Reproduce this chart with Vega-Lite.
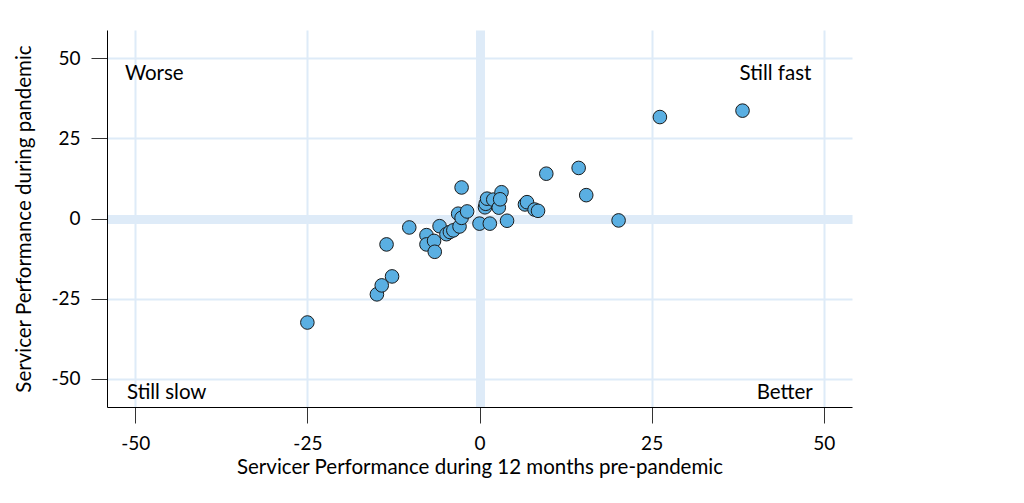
{
  "$schema": "https://vega.github.io/schema/vega-lite/v6.json",
  "autosize": {"type": "none"},
  "padding": {"left": 107, "top": 30, "right": 172, "bottom": 96},
  "width": 745,
  "height": 377,
  "background": "white",
  "config": {
    "view": {"stroke": null},
    "font": "Lato",
    "axis": {
      "labelFont": "Lato",
      "titleFont": "Lato",
      "labelFontSize": 19,
      "titleFontSize": 20.5,
      "titleFontWeight": "normal",
      "labelColor": "#000000",
      "titleColor": "#000000",
      "domainColor": "#000000",
      "domainWidth": 1,
      "tickColor": "#333333",
      "tickSize": 16,
      "gridColor": "#deebf8",
      "gridOpacity": 1,
      "labelExpr": "datum.value < 0 ? '-' + abs(datum.value) : '' + datum.value"
    }
  },
  "datasets": {
    "points": [
      {"pre": -25.0, "during": -32.5},
      {"pre": -14.9, "during": -23.7},
      {"pre": -14.2, "during": -20.9},
      {"pre": -12.7, "during": -18.1},
      {"pre": -13.5, "during": -8.1},
      {"pre": -10.2, "during": -2.8},
      {"pre": -2.6, "during": 9.7},
      {"pre": -7.7, "during": -5.2},
      {"pre": -7.7, "during": -8.1},
      {"pre": -6.6, "during": -7.0},
      {"pre": -6.5, "during": -10.4},
      {"pre": -5.8, "during": -2.4},
      {"pre": -4.8, "during": -4.9},
      {"pre": -4.3, "during": -4.2},
      {"pre": -3.8, "during": -3.7},
      {"pre": -2.9, "during": -2.5},
      {"pre": -3.1, "during": 1.5},
      {"pre": -2.6, "during": 0.2},
      {"pre": -1.8, "during": 2.2},
      {"pre": 0.0, "during": -1.6},
      {"pre": 1.5, "during": -1.6},
      {"pre": 4.0, "during": -0.7},
      {"pre": 0.8, "during": 3.5},
      {"pre": 0.9, "during": 4.6},
      {"pre": 1.1, "during": 6.2},
      {"pre": 2.0, "during": 5.9},
      {"pre": 2.8, "during": 3.4},
      {"pre": 3.2, "during": 8.2},
      {"pre": 3.0, "during": 6.0},
      {"pre": 6.6, "during": 4.4},
      {"pre": 6.9, "during": 5.1},
      {"pre": 8.0, "during": 2.8},
      {"pre": 8.5, "during": 2.4},
      {"pre": 9.7, "during": 14.0},
      {"pre": 14.4, "during": 15.8},
      {"pre": 15.5, "during": 7.3},
      {"pre": 20.2, "during": -0.6},
      {"pre": 26.2, "during": 31.7},
      {"pre": 38.2, "during": 33.7}
    ],
    "labels": [
      {"pre": -51.5, "during": 45, "label": "Worse", "side": "left"},
      {"pre": 48.2, "during": 45, "label": "Still fast", "side": "right"},
      {"pre": -51.2, "during": -54.6, "label": "Still slow", "side": "left"},
      {"pre": 48.4, "during": -54.6, "label": "Better", "side": "right"}
    ]
  },
  "layer": [
    {
      "data": {"name": "points"},
      "mark": {"type": "point", "shape": "circle", "filled": true, "fill": "#5aafe2", "stroke": "#1a1a1a", "strokeWidth": 1, "size": 185, "opacity": 1},
      "encoding": {
        "x": {
          "field": "pre", "type": "quantitative",
          "scale": {"domain": [-54.1, 54.1], "nice": false, "zero": false},
          "axis": {
            "title": "Servicer Performance during 12 months pre-pandemic",
            "values": [-50, -25, 0, 25, 50],
            "labelPadding": 11,
            "titlePadding": 4,
            "gridWidth": {"condition": {"test": "datum.value === 0", "value": 9}, "value": 2}
          }
        },
        "y": {
          "field": "during", "type": "quantitative",
          "scale": {"domain": [-58.9, 58.9], "nice": false, "zero": false},
          "axis": {
            "title": "Servicer Performance during pandemic",
            "values": [-50, -25, 0, 25, 50],
            "labelPadding": 11,
            "titlePadding": 16,
            "gridWidth": {"condition": {"test": "datum.value === 0", "value": 9}, "value": 2}
          }
        }
      }
    },
    {
      "data": {"name": "labels"},
      "transform": [{"filter": "datum.side === 'left'"}],
      "mark": {"type": "text", "align": "left", "baseline": "middle", "font": "Lato", "fontSize": 20.5, "color": "#000000"},
      "encoding": {
        "x": {"field": "pre", "type": "quantitative"},
        "y": {"field": "during", "type": "quantitative"},
        "text": {"field": "label"}
      }
    },
    {
      "data": {"name": "labels"},
      "transform": [{"filter": "datum.side === 'right'"}],
      "mark": {"type": "text", "align": "right", "baseline": "middle", "font": "Lato", "fontSize": 20.5, "color": "#000000"},
      "encoding": {
        "x": {"field": "pre", "type": "quantitative"},
        "y": {"field": "during", "type": "quantitative"},
        "text": {"field": "label"}
      }
    }
  ]
}
